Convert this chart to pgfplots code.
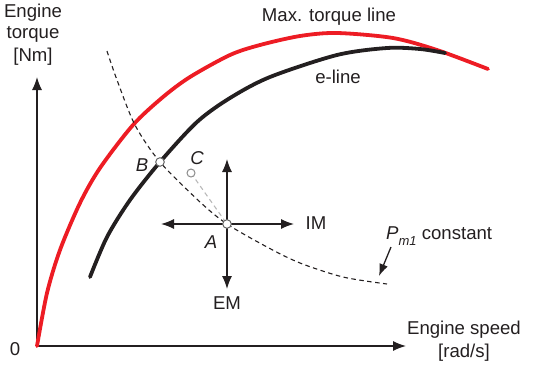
\documentclass[border=0pt]{standalone}
\usepackage{pgfplots}
\pgfplotsset{compat=1.18}
\usepackage{fontspec}
\setmainfont{Liberation Sans}
\usetikzlibrary{arrows.meta}
\definecolor{myred}{HTML}{ED1C24}
\definecolor{myblack}{HTML}{231F20}
\begin{document}
\begin{tikzpicture}[font=\fontsize{18.6}{21}\selectfont]
\begin{axis}[scale only axis, width=550pt, height=370pt,
  xmin=0, xmax=550, ymin=0, ymax=370, y dir=reverse,
  hide axis, clip=false]
% axes
\addplot[myblack, line width=1.3pt, -{Latex[length=13pt,width=10pt]}] coordinates {(37,346) (406,346)};
\addplot[myblack, line width=1.3pt, -{Latex[length=13pt,width=10pt]}] coordinates {(37,346) (37,77)};
% red max torque line
\addplot[myred, line width=3.8pt, smooth, line cap=round] coordinates {
(37,346) (47,293) (60,250) (80,203) (100,168) (133,125) (163,97) (190,77) (230,55) (260,45) (300,36) (337,33) (393,38) (437,50) (488,69)};
% black e-line
\addplot[myblack, line width=3.8pt, smooth, line cap=round] coordinates {
(90,277) (107,237) (130,200) (160,162) (197,122) (230,98) (270,77) (337,55) (387,48) (420,49) (445,53)};
% dashed Pm1 constant
\addplot[myblack, line width=1.1pt, dash pattern=on 4.5pt off 3.5pt, smooth] coordinates {
(107,51) (117,80) (135,125) (160,162) (200,202) (227,224) (267,247) (300,263) (343,277) (387,284)};
% gray dashed C-A
\addplot[black!28, line width=1.1pt, dash pattern=on 4.5pt off 3.5pt] coordinates {(191,173) (227,224)};
% arrows from A
\addplot[myblack, line width=1.3pt, -{Latex[length=13pt,width=10pt]}] coordinates {(227,224) (227,159)};
\addplot[myblack, line width=1.3pt, -{Latex[length=13pt,width=10pt]}] coordinates {(227,224) (227,289)};
\addplot[myblack, line width=1.3pt, -{Latex[length=13pt,width=10pt]}] coordinates {(227,224) (161,224)};
\addplot[myblack, line width=1.3pt, -{Latex[length=13pt,width=10pt]}] coordinates {(227,224) (294,224)};
% Pm1 arrow
\addplot[myblack, line width=1.3pt, -{Latex[length=12pt,width=9pt]}] coordinates {(391,247) (379,276)};
% points
\addplot[only marks, mark=*, mark size=4.3pt, mark options={fill=white, draw=black!60, line width=1pt}] coordinates {(160,162) (227,224)};
\addplot[only marks, mark=*, mark size=4pt, mark options={fill=white, draw=black!45, line width=1pt}] coordinates {(191,173)};
% labels
\node[text=myblack] at (axis cs:33,13) {Engine};
\node[text=myblack] at (axis cs:33,34) {torque};
\node[text=myblack] at (axis cs:33,57) {[Nm]};
\node[text=myblack] at (axis cs:15,349) {0};
\node[text=myblack] at (axis cs:464,330) {Engine speed};
\node[text=myblack] at (axis cs:464,353) {[rad/s]};
\node[text=myblack] at (axis cs:329,17) {Max. torque line};
\node[text=myblack] at (axis cs:338,77) {e-line};
\node[text=myblack] at (axis cs:316,223) {IM};
\node[text=myblack] at (axis cs:227,303) {EM};
\node[text=myblack] at (axis cs:211,242) {\itshape A};
\node[text=myblack] at (axis cs:142,165) {\itshape B};
\node[text=myblack] at (axis cs:197,158) {\itshape C};
\node[text=myblack, anchor=west, inner sep=0pt] at (axis cs:386,236) {\itshape P\raisebox{-0.6ex}{\fontsize{13}{14}\selectfont m1}\upshape\ constant};
\end{axis}
\path (current axis.south west) rectangle (current axis.north east);
\end{tikzpicture}
\end{document}
